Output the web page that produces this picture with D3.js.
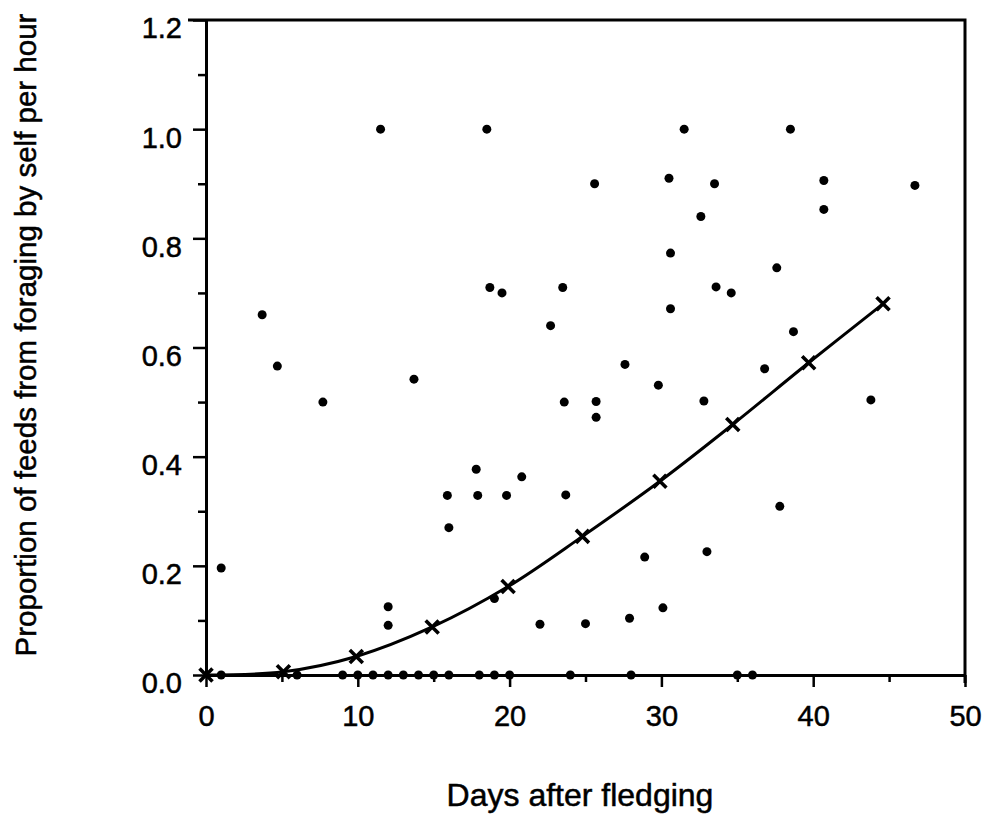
<!DOCTYPE html>
<html>
<head>
<meta charset="utf-8">
<script src="https://cdn.jsdelivr.net/npm/d3@7"></script>
<style>
  html, body { margin: 0; padding: 0; background: #fff; }
  svg { display: block; }
</style>
</head>
<body>
<svg id="chart" width="1000" height="816"></svg>
<script>
// ---- data ----
const scatterDays = [1.0, 3.7, 4.7, 7.7, 11.5, 12.0, 12.0, 13.7, 15.9, 16.0, 17.8, 17.9, 18.5, 18.7, 19.0, 19.5, 19.8, 20.8, 22.0, 22.7, 23.5, 23.6, 23.7, 25.0, 25.6, 25.7, 25.7, 27.6, 27.9, 28.9, 29.8, 30.1, 30.5, 30.6, 30.6, 31.5, 32.6, 32.8, 33.0, 33.5, 33.6, 34.6, 36.8, 37.6, 37.8, 38.5, 38.7, 40.7, 40.7, 43.8, 46.7];
const scatterValues = [0.196, 0.66, 0.566, 0.50, 1.0, 0.125, 0.091, 0.542, 0.329, 0.27, 0.377, 0.329, 1.0, 0.71, 0.14, 0.70, 0.329, 0.363, 0.093, 0.64, 0.71, 0.50, 0.33, 0.094, 0.90, 0.501, 0.472, 0.569, 0.104, 0.216, 0.531, 0.123, 0.91, 0.773, 0.671, 1.0, 0.84, 0.502, 0.226, 0.90, 0.711, 0.70, 0.561, 0.746, 0.309, 1.0, 0.629, 0.906, 0.853, 0.504, 0.897];
const zeroDays = [1, 6, 9, 10, 11, 12, 13, 14, 15, 16, 18, 19, 20, 24, 28, 35, 36];
const zeroValues = [0, 0, 0, 0, 0, 0, 0, 0, 0, 0, 0, 0, 0, 0, 0, 0, 0];
const fitDays = [0, 5.1, 9.9, 14.9, 19.9, 24.8, 29.9, 34.7, 39.7, 44.6];
const fitValues = [0, 0.006, 0.034, 0.088, 0.162, 0.254, 0.355, 0.459, 0.572, 0.68];
const xTicks = [0, 10, 20, 30, 40, 50];
const xMinorTicks = [5, 15, 25, 35, 45];
const yTicks = [0, 0.2, 0.4, 0.6, 0.8, 1.0, 1.2];
const yMinorTicks = [0.1, 0.3, 0.5, 0.7, 0.9, 1.1];
const xTitle = "Days after fledging";
const yTitle = "Proportion of feeds from foraging by self per hour";

// ---- layout ----
const svg = d3.select("#chart");
const x = d3.scaleLinear().domain([0, 50]).range([206, 965]);
const y = d3.scaleLinear().domain([0, 1.2]).range([675, 20]);
const font = "'Liberation Sans', Arial, Helvetica, sans-serif";

// frame (top and right)
svg.append("path")
  .attr("d", `M${x(0) - 18},${y(1.2)} H${x(50)} V${y(0) + 8}`)
  .attr("fill", "none").attr("stroke", "#000").attr("stroke-width", 3);

// y axis
const gy = svg.append("g").attr("transform", `translate(${x(0)},0)`);
gy.call(d3.axisLeft(y).tickValues(yTicks).tickSize(13).tickSizeOuter(0).tickPadding(11)
  .tickFormat(d3.format(".1f")));
gy.select(".domain").attr("stroke-width", 3);
gy.selectAll(".tick line").attr("stroke-width", 2.5);
gy.selectAll(".tick text").attr("font-family", font).attr("font-size", 29)
  .attr("dy", "0.62em").attr("fill", "#000").attr("stroke", "#000").attr("stroke-width", 0.5);
const gym = svg.append("g").attr("transform", `translate(${x(0)},0)`);
gym.call(d3.axisLeft(y).tickValues(yMinorTicks).tickSize(8).tickSizeOuter(0).tickFormat(""));
gym.select(".domain").remove();
gym.selectAll(".tick line").attr("stroke-width", 2.5);

// x axis
const gx = svg.append("g").attr("transform", `translate(0,${y(0)})`);
gx.call(d3.axisBottom(x).tickValues(xTicks).tickSize(12).tickSizeOuter(0).tickPadding(18)
  .tickFormat(d3.format("d")));
gx.select(".domain").attr("stroke-width", 3);
gx.selectAll(".tick line").attr("stroke-width", 2.5);
gx.selectAll(".tick text").attr("font-family", font).attr("font-size", 29).attr("fill", "#000")
  .attr("stroke", "#000").attr("stroke-width", 0.5);
const gxm = svg.append("g").attr("transform", `translate(0,${y(0)})`);
gxm.call(d3.axisBottom(x).tickValues(xMinorTicks).tickSize(7).tickSizeOuter(0).tickFormat(""));
gxm.select(".domain").remove();
gxm.selectAll(".tick line").attr("stroke-width", 2.5);

// scatter points
const pts = scatterDays.map((d, i) => ({ d, v: scatterValues[i] }))
  .concat(zeroDays.map((d, i) => ({ d, v: zeroValues[i] })));
svg.append("g").selectAll("circle").data(pts).join("circle")
  .attr("cx", p => x(p.d)).attr("cy", p => y(p.v)).attr("r", 4.5).attr("fill", "#000");

// fitted line
const fit = fitDays.map((d, i) => ({ d, v: fitValues[i] }));
svg.append("path").datum(fit)
  .attr("d", d3.line().x(p => x(p.d)).y(p => y(p.v)).curve(d3.curveCatmullRom))
  .attr("fill", "none").attr("stroke", "#000").attr("stroke-width", 3);
svg.append("g").selectAll("path").data(fit).join("path")
  .attr("transform", p => `translate(${x(p.d)},${y(p.v)})`)
  .attr("d", "M-6.5,-6.5L6.5,6.5M-6.5,6.5L6.5,-6.5")
  .attr("stroke", "#000").attr("stroke-width", 3.6).attr("fill", "none");

// titles
svg.append("text").attr("x", 580).attr("y", 806).attr("text-anchor", "middle")
  .attr("font-family", font).attr("font-size", 32)
  .attr("stroke", "#000").attr("stroke-width", 0.5).text(xTitle);
svg.append("text").attr("transform", "translate(36,335) rotate(-90)").attr("text-anchor", "middle")
  .attr("font-family", font).attr("font-size", 29.5)
  .attr("stroke", "#000").attr("stroke-width", 0.5).text(yTitle);
</script>
</body>
</html>
